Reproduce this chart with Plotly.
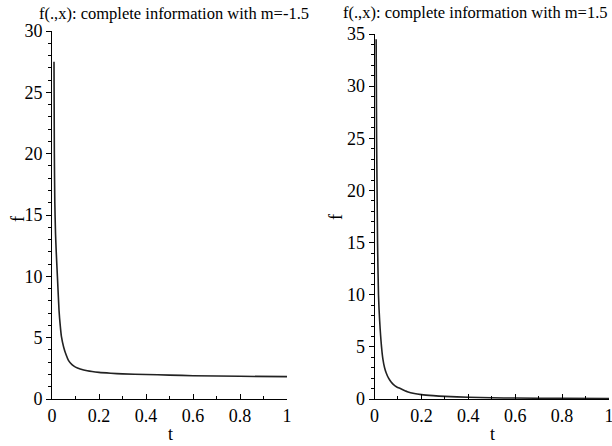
import plotly.graph_objects as go

# Left panel: m = -1.5
t_left = [0.0085, 0.010, 0.012, 0.015, 0.018, 0.023, 0.03, 0.035, 0.04, 0.05, 0.06, 0.07, 0.085,
          0.10, 0.12, 0.15, 0.20, 0.25, 0.30, 0.40, 0.50, 0.60, 0.80, 1.0]
f_left = [27.5, 20.0, 16.0, 13.5, 12.0, 10.0, 7.2, 6.0, 5.1, 4.2, 3.6, 3.15, 2.8,
          2.6, 2.45, 2.3, 2.17, 2.1, 2.05, 2.0, 1.95, 1.9, 1.85, 1.82]

# Right panel: m = 1.5
t_right = [0.007, 0.008, 0.009, 0.011, 0.013, 0.017, 0.022, 0.03, 0.036, 0.043, 0.05, 0.06, 0.07, 0.08,
           0.095, 0.11, 0.14, 0.17, 0.20, 0.25, 0.30, 0.40, 0.50, 0.60, 0.80, 1.0]
f_right = [34.5, 30.0, 25.0, 20.0, 15.0, 10.0, 7.5, 5.0, 3.8, 3.0, 2.5, 2.0, 1.65, 1.4,
           1.15, 1.0, 0.7, 0.52, 0.42, 0.32, 0.25, 0.17, 0.12, 0.09, 0.06, 0.04]

titles = ["f(.,x): complete information with m=-1.5",
          "f(.,x): complete information with m=1.5"]
x_ticks = [0, 0.2, 0.4, 0.6, 0.8, 1]
x_tick_text = ["0", "0.2", "0.4", "0.6", "0.8", "1"]

W, H = 612, 446
FONT = "Liberation Serif, Times New Roman, serif"

fig = go.Figure()
fig.add_trace(go.Scatter(x=t_left, y=f_left, mode="lines", line=dict(color="#222", width=1.6, shape="spline", smoothing=0.6),
                         xaxis="x", yaxis="y", showlegend=False))
fig.add_trace(go.Scatter(x=t_right, y=f_right, mode="lines", line=dict(color="#222", width=1.6, shape="spline", smoothing=0.6),
                         xaxis="x2", yaxis="y2", showlegend=False))

def xax(domain, anchor):
    return dict(domain=domain, anchor=anchor, range=[0, 1], tickvals=x_ticks, ticktext=x_tick_text,
                automargin=False, ticklabeloverflow="allow",
                showgrid=False, zeroline=False, showline=True, linecolor="black", linewidth=1,
                ticks="inside", ticklen=5, tickcolor="black",
                minor=dict(ticks="inside", ticklen=3, dtick=0.1, tickcolor="black"),
                tickfont=dict(family=FONT, size=18, color="black"))

def yax(domain, anchor, rng, dt):
    return dict(domain=domain, anchor=anchor, range=rng, dtick=dt, showgrid=False, zeroline=False,
                automargin=False, ticklabeloverflow="allow",
                showline=True, linecolor="black", linewidth=1,
                ticks="outside", ticklen=5, tickcolor="black",
                minor=dict(ticks="outside", ticklen=3, dtick=1, tickcolor="black"),
                tickfont=dict(family=FONT, size=18, color="black"))

def note(text, x, y, size, angle=0):
    return dict(text=text, x=x / W, y=1 - y / H, xref="paper", yref="paper", showarrow=False,
                textangle=angle, font=dict(family=FONT, size=size, color="black"),
                xanchor="center", yanchor="middle")

y0 = (H - 399) / H
fig.update_layout(
    width=W, height=H, margin=dict(l=0, r=0, t=0, b=0),
    plot_bgcolor="white", paper_bgcolor="white",
    xaxis=xax([52 / W, 287 / W], "y"),
    yaxis=yax([y0, (H - 31) / H], "x", [0, 30], 5),
    xaxis2=xax([374.5 / W, 609 / W], "y2"),
    yaxis2=yax([y0, (H - 34) / H], "x2", [0, 35], 5),
    annotations=[
        note(titles[0], 174, 14, 16.5),
        note(titles[1], 475, 13, 16.5),
        note("f", 18, 219, 18, -90),
        note("f", 336, 217, 18, -90),
        note("t", 170, 434, 18),
        note("t", 492, 434, 18),
    ],
)

fig.write_html("out.html", config={"displayModeBar": False})

# remove default page margin so the figure sits at the window's top-left corner
with open("out.html", "r", encoding="utf-8") as fh:
    html = fh.read()
html = html.replace("<head>", "<head><style>html,body{margin:0;padding:0;overflow:hidden;}</style>", 1)
with open("out.html", "w", encoding="utf-8") as fh:
    fh.write(html)
